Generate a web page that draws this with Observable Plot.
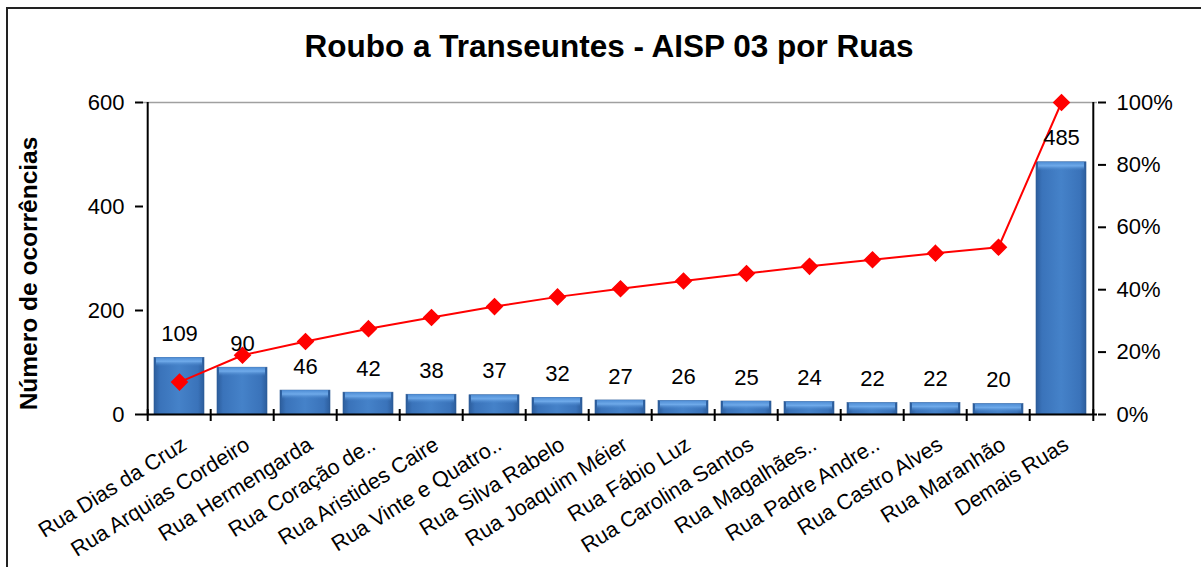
<!DOCTYPE html>
<html>
<head>
<meta charset="utf-8">
<script src="https://cdn.jsdelivr.net/npm/d3@7"></script>
<script src="https://cdn.jsdelivr.net/npm/@observablehq/plot@0.6"></script>
<style>
  html, body { margin: 0; padding: 0; background: #fff; }
  body { width: 1201px; height: 567px; overflow: hidden; position: relative; font-family: "Liberation Sans", Arial, sans-serif; }
  #frame { position: absolute; left: 6px; top: 7px; width: 1300px; height: 700px; border: 2px solid #222; box-sizing: border-box; }
  #title { position: absolute; left: 0; top: 0; width: 1218px; height: 80px; line-height: 92px; text-align: center; font-weight: bold; font-size: 31.5px; color: #000; }
  #chart { position: absolute; left: 0; top: 80px; }
</style>
</head>
<body>
<div id="frame"></div>
<div id="title">Roubo a Transeuntes - AISP 03 por Ruas</div>
<div id="chart"></div>
<script>
const categories = [
  "Rua Dias da Cruz", "Rua Arquias Cordeiro", "Rua Hermengarda", "Rua Coração de..",
  "Rua Aristides Caire", "Rua Vinte e Quatro..", "Rua Silva Rabelo", "Rua Joaquim Méier",
  "Rua Fábio Luz", "Rua Carolina Santos", "Rua Magalhães..", "Rua Padre Andre..",
  "Rua Castro Alves", "Rua Maranhão", "Demais Ruas"
];
const counts = [109, 90, 46, 42, 38, 37, 32, 27, 26, 25, 24, 22, 22, 20, 485];
const cumulativePct = [10.4, 19.0, 23.4, 27.5, 31.1, 34.6, 37.7, 40.3, 42.8, 45.2, 47.5, 49.6, 51.7, 53.6, 100];
const leftTicks = [0, 200, 400, 600];
const rightTicks = [0, 20, 40, 60, 80, 100];

const data = categories.map((c, i) => ({name: c, count: counts[i], pct: cumulativePct[i]}));

const W = 1201, H = 487, mL = 143, mR = 104, mT = 22, mB = 153;
const step = (W - mL - mR) / categories.length;
const pctToY = p => p * 6; // right axis 0–100% shares the 0–600 range
const font = "'Liberation Sans', Arial, sans-serif";

const chart = Plot.plot({
  width: W, height: H,
  marginLeft: mL, marginRight: mR, marginTop: mT, marginBottom: mB,
  style: {fontFamily: font, color: "#000", background: "transparent", overflow: "visible"},
  x: {type: "band", domain: categories, paddingInner: 0.2, paddingOuter: 0.1, axis: null},
  y: {domain: [0, 600], axis: null},
  marks: [
    Plot.ruleY([600], {stroke: "#a0a0a0", strokeWidth: 1.5}),
    Plot.barY(data, {x: "name", y: "count", fill: "url(#barGrad)", stroke: "#2d5a94", strokeWidth: 0.6}),
    Plot.rectY(data, {x: "name", y1: "count", y2: "count", insetBottom: -9, insetLeft: 2, insetRight: 2, fill: "url(#bevel)"}),
    Plot.ruleY([0], {stroke: "#000", strokeWidth: 2}),
    Plot.ruleX([categories[0]], {y1: 0, y2: 600, dx: -step / 2, stroke: "#000", strokeWidth: 2}),
    Plot.ruleX([categories[categories.length - 1]], {y1: 0, y2: 600, dx: step / 2, stroke: "#000", strokeWidth: 2}),
    Plot.ruleX(categories, {y1: 0, y2: 0, insetTop: -5, insetBottom: -7, dx: -step / 2, stroke: "#000", strokeWidth: 2}),
    Plot.ruleX([categories[categories.length - 1]], {y1: 0, y2: 0, insetTop: -5, insetBottom: -7, dx: step / 2, stroke: "#000", strokeWidth: 2}),
    Plot.axisY(leftTicks, {anchor: "left", tickSize: 8, tickPadding: 11, fontSize: 22, strokeWidth: 2, label: null}),
    Plot.axisY(rightTicks.map(pctToY), {anchor: "right", tickSize: 8, tickPadding: 11, fontSize: 22, strokeWidth: 2, tickFormat: v => Math.round(v / 6) + "%", label: null}),
    Plot.line(data, {x: "name", y: d => pctToY(d.pct), stroke: "#ff0000", strokeWidth: 2}),
    Plot.dot(data, {x: "name", y: d => pctToY(d.pct), symbol: "diamond2", r: 7, fill: "#ff0000", stroke: "#ff0000"}),
    Plot.text(data, {x: "name", y: "count", text: d => String(d.count), dy: -24, fontSize: 22, fill: "#000"}),
    Plot.text(data, {x: "name", y: 0, text: "name", rotate: -32, textAnchor: "end", dx: 5, dy: 28, fontSize: 21.5, fill: "#000"}),
    Plot.text(["Número de ocorrências"], {frameAnchor: "left", textAnchor: "middle", text: d => d, rotate: -90, dx: -114, dy: 15, fontSize: 24.5, fontWeight: "bold", fill: "#000"})
  ]
});

const svg = d3.select(chart);
const defs = svg.insert("defs", ":first-child");
const g = defs.append("linearGradient").attr("id", "barGrad").attr("x1", 0).attr("x2", 1).attr("y1", 0).attr("y2", 0);
g.append("stop").attr("offset", "0%").attr("stop-color", "#2c5d9c");
g.append("stop").attr("offset", "12%").attr("stop-color", "#3a73ba");
g.append("stop").attr("offset", "50%").attr("stop-color", "#4582c9");
g.append("stop").attr("offset", "88%").attr("stop-color", "#3a73ba");
g.append("stop").attr("offset", "100%").attr("stop-color", "#2c5d9c");
const b = defs.append("linearGradient").attr("id", "bevel").attr("x1", 0).attr("x2", 0).attr("y1", 0).attr("y2", 1);
b.append("stop").attr("offset", "0%").attr("stop-color", "#4f8ed6").attr("stop-opacity", 0.9);
b.append("stop").attr("offset", "45%").attr("stop-color", "#74afee").attr("stop-opacity", 0.9);
b.append("stop").attr("offset", "100%").attr("stop-color", "#4582c9").attr("stop-opacity", 0);

document.getElementById("chart").appendChild(chart);
</script>
</body>
</html>
